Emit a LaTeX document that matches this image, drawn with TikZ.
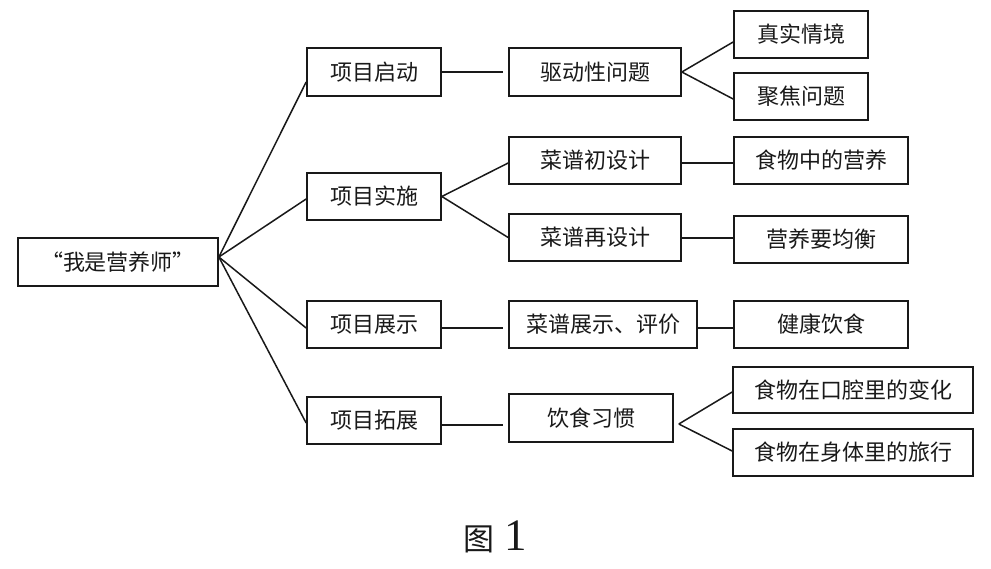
\documentclass[tikz,border=0pt]{standalone}
\usepackage{fontspec}
\newfontfamily\cjk{Noto Sans CJK SC}
\newfontfamily\serifnum{Liberation Serif}
\begin{document}
\begin{tikzpicture}[x=1pt,y=-1pt,
  box/.style={draw=black!90, line width=1.7pt, inner sep=0pt, minimum height=47pt,
    font=\cjk\fontsize{22}{22}\selectfont, text=black!90},
  conn/.style={draw=black!90, line width=1.5pt}]
\useasboundingbox (0,0) rectangle (991,568);
\fill[white] (0,0) rectangle (991,568);
% nodes
\node[box, minimum width=200pt, minimum height=48pt] (root) at (118,262) {“我是营养师”};
\node[box, minimum width=134pt, minimum height=48pt] (a1) at (374,72) {项目启动};
\node[box, minimum width=134pt] (a2) at (374,196.5) {项目实施};
\node[box, minimum width=134pt] (a3) at (374,324.5) {项目展示};
\node[box, minimum width=134pt] (a4) at (374,420.5) {项目拓展};
\node[box, minimum width=172pt, minimum height=48pt] (b1) at (595,72) {驱动性问题};
\node[box, minimum width=172pt] (b2) at (595,160.5) {菜谱初设计};
\node[box, minimum width=172pt] (b3) at (595,237.5) {菜谱再设计};
\node[box, minimum width=188pt] (b4) at (603,324.5) {菜谱展示、评价};
\node[box, minimum width=164pt, minimum height=48pt] (b5) at (591,418) {饮食习惯};
\node[box, minimum width=134pt] (c1) at (801,34.5) {真实情境};
\node[box, minimum width=134pt] (c2) at (801,96.5) {聚焦问题};
\node[box, minimum width=174pt] (c3) at (821,160.5) {食物中的营养};
\node[box, minimum width=174pt] (c4) at (821,239.5) {营养要均衡};
\node[box, minimum width=174pt] (c5) at (821,324.5) {健康饮食};
\node[box, minimum width=240pt, minimum height=46pt] (c6) at (853,390) {食物在口腔里的变化};
\node[box, minimum width=240pt] (c7) at (853,452.5) {食物在身体里的旅行};
% connectors
\draw[conn] ([yshift=5pt]root.east) -- ([yshift=-10pt]a1.west);
\draw[conn] ([yshift=5pt]root.east) -- ([yshift=-2.5pt]a2.west);
\draw[conn] ([yshift=5pt]root.east) -- ([yshift=-3.5pt]a3.west);
\draw[conn] ([yshift=5pt]root.east) -- ([yshift=-2.5pt]a4.west);
\draw[conn] (a1.east) -- ([xshift=-5pt]b1.west);
\draw[conn] (a2.east) -- ([yshift=-2.5pt]b2.west);
\draw[conn] (a2.east) -- (b3.west);
\draw[conn] ([yshift=-3.5pt]a3.east) -- ([xshift=-5pt,yshift=-3.5pt]b4.west);
\draw[conn] ([yshift=-4.5pt]a4.east) -- ([xshift=-5pt,yshift=-7pt]b5.west);
\draw[conn] (b1.east) -- ([yshift=-7.5pt]c1.west);
\draw[conn] (b1.east) -- ([yshift=-2.5pt]c2.west);
\draw[conn] ([yshift=-2.5pt]b2.east) -- ([yshift=-2.5pt]c3.west);
\draw[conn] ([yshift=-0.5pt]b3.east) -- ([yshift=1.5pt]c4.west);
\draw[conn] ([yshift=-3.5pt]b4.east) -- ([yshift=-3.5pt]c5.west);
\draw[conn] ([xshift=5pt,yshift=-6pt]b5.east) -- ([yshift=-2pt]c6.west);
\draw[conn] ([xshift=5pt,yshift=-6pt]b5.east) -- ([yshift=1.5pt]c7.west);
% caption
\node[inner sep=0pt, text=black!90] (cap) at (495,537) {{\cjk\fontsize{31}{31}\selectfont 图}\hspace{10pt}{\serifnum\fontsize{45}{45}\selectfont 1}};
\end{tikzpicture}
\end{document}
